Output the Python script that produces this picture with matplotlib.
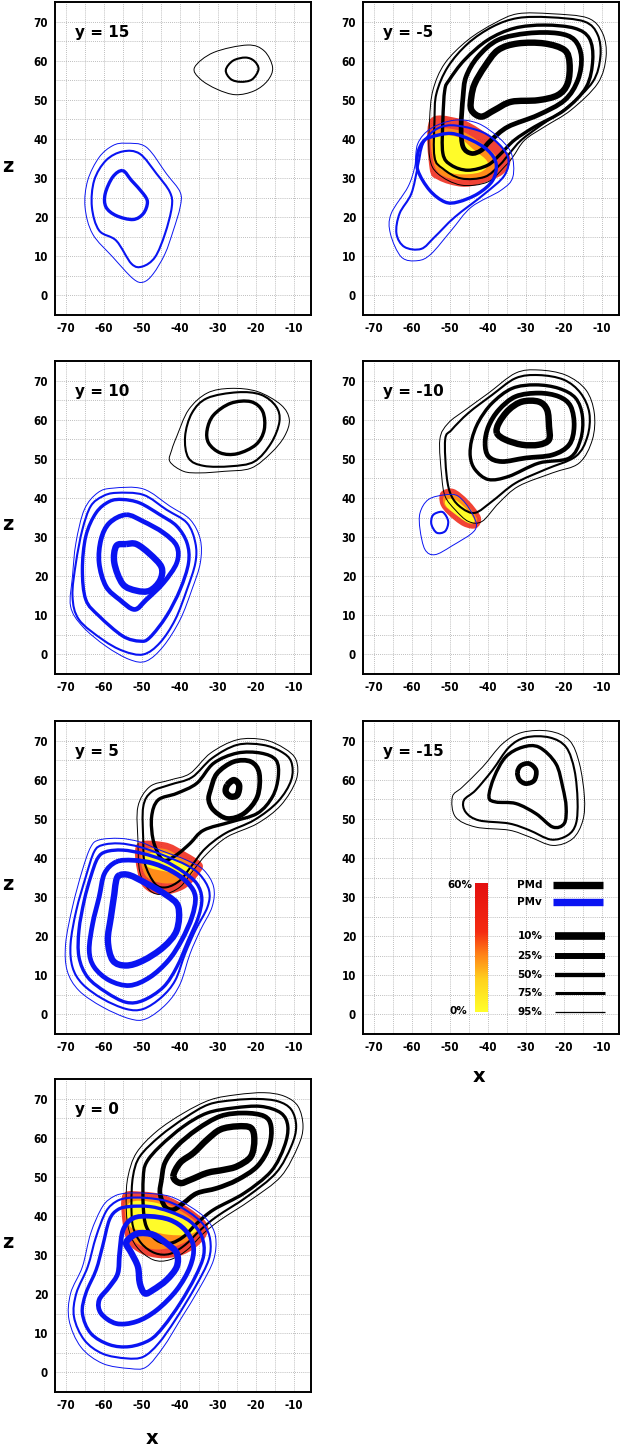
import numpy as np
import matplotlib
matplotlib.use("Agg")
import matplotlib.pyplot as plt
from matplotlib import font_manager
from matplotlib.path import Path
from matplotlib.patches import PathPatch
from matplotlib.colors import LinearSegmentedColormap

plt.rcParams["axes.unicode_minus"] = False

# contour outlines (x, z), keyed by percentile level
PMD_Y15 = {
    95: [(-36.1, 58.3), (-31.1, 62.1), (-22.2, 64.0), (-17.8, 62.5), (-15.6, 58.3), (-16.9, 54.9),
         (-20.4, 52.3), (-25.3, 51.3), (-30.2, 52.7), (-34.6, 55.3)],
    75: [(-27.9, 57.6), (-26.0, 60.0), (-22.7, 60.8), (-20.4, 59.9), (-19.3, 57.8), (-21.0, 55.2),
         (-24.0, 54.6), (-26.6, 55.3)],
}
PMV_Y15 = {
    95: [(-54.2, 38.9), (-48.8, 37.9), (-43.5, 31.1), (-39.9, 26.4), (-39.9, 22.6), (-41.7, 16.6),
         (-43.9, 10.6), (-47.0, 5.5), (-49.6, 3.4), (-52.3, 4.3), (-57.6, 9.8), (-62.9, 15.7),
         (-64.9, 22.6), (-64.2, 29.4), (-61.2, 35.3), (-57.6, 38.3)],
    75: [(-55.0, 36.8), (-50.5, 36.2), (-46.1, 31.1), (-42.6, 26.4), (-42.1, 22.6), (-43.9, 15.7),
         (-46.5, 9.8), (-49.8, 7.4), (-52.7, 8.1), (-56.7, 14.0), (-61.2, 16.6), (-63.1, 22.6),
         (-62.5, 29.4), (-59.4, 34.5)],
    50: [(-55.0, 31.9), (-52.7, 29.4), (-49.6, 26.0), (-48.5, 23.8), (-49.6, 20.9), (-52.3, 19.4),
         (-56.7, 20.4), (-59.4, 22.6), (-59.6, 26.0), (-57.6, 30.3)],
}

PMD_YM5 = {
    95: [(-55.3, 44.8), (-55.3, 35.4), (-53.1, 31.1), (-47.0, 28.2), (-40.0, 29.0), (-35.6, 32.9),
         (-33.4, 35.4), (-30.3, 39.7), (-25.1, 43.1), (-18.1, 47.4), (-11.1, 54.2), (-8.9, 61.0),
         (-9.8, 67.0), (-13.7, 70.9), (-23.3, 72.0), (-32.1, 72.0), (-38.2, 69.6), (-45.2, 65.3),
         (-51.3, 59.3), (-54.4, 52.5)],
    75: [(-53.5, 51.6), (-54.0, 44.8), (-54.0, 35.4), (-51.8, 32.4), (-47.0, 29.9), (-40.8, 30.3),
         (-36.9, 33.3), (-34.3, 36.3), (-31.2, 39.7), (-26.0, 43.5), (-19.0, 48.2), (-12.4, 54.6),
         (-10.4, 61.0), (-11.1, 66.6), (-14.6, 70.0), (-23.8, 71.1), (-32.1, 70.9), (-38.7, 68.7),
         (-45.2, 64.4), (-50.5, 58.4)],
    50: [(-51.3, 52.5), (-51.8, 44.8), (-51.8, 36.3), (-49.6, 33.3), (-45.2, 32.0), (-40.0, 33.3),
         (-36.5, 36.3), (-33.0, 39.7), (-27.7, 43.1), (-19.8, 47.4), (-14.1, 53.3), (-12.4, 60.2),
         (-13.3, 65.7), (-17.2, 68.3), (-25.1, 69.1), (-33.0, 68.3), (-40.0, 65.3), (-46.1, 60.2),
         (-50.1, 55.1)],
    25: [(-46.5, 50.8), (-47.0, 43.1), (-46.5, 38.0), (-44.3, 36.3), (-41.7, 37.1), (-39.1, 39.7),
         (-34.7, 43.1), (-26.8, 46.1), (-19.8, 49.9), (-16.3, 55.1), (-15.4, 61.0), (-17.2, 65.3),
         (-21.6, 67.0), (-29.5, 67.0), (-37.3, 65.3), (-42.6, 61.0), (-45.7, 55.9)],
    10: [(-44.3, 50.8), (-44.3, 47.4), (-41.7, 45.7), (-38.2, 47.4), (-33.8, 49.5), (-26.8, 49.9),
         (-21.6, 51.2), (-19.0, 54.2), (-18.5, 59.3), (-19.8, 62.7), (-25.1, 64.4), (-32.1, 64.4),
         (-37.3, 62.7), (-40.8, 58.5), (-43.4, 54.2)],
}
PMV_YM5 = {
    95: [(-48.7, 44.8), (-42.6, 44.0), (-37.3, 40.5), (-33.8, 36.3), (-33.4, 30.3), (-36.5, 26.9),
         (-44.3, 22.6), (-49.6, 16.6), (-54.9, 10.6), (-58.4, 8.9), (-62.7, 9.8), (-65.6, 15.8),
         (-65.4, 20.9), (-61.0, 27.7), (-59.2, 32.9), (-58.4, 38.8), (-54.9, 42.7)],
    75: [(-49.6, 43.5), (-42.6, 42.2), (-38.2, 39.7), (-34.7, 35.4), (-35.6, 30.7), (-40.8, 26.0),
         (-48.7, 20.0), (-54.0, 14.9), (-57.5, 11.9), (-61.9, 12.4), (-64.0, 15.8), (-63.2, 20.9),
         (-60.1, 26.0), (-58.4, 32.9), (-57.0, 38.8), (-54.0, 42.2)],
    50: [(-54.9, 40.5), (-49.6, 41.4), (-44.3, 39.7), (-40.0, 37.1), (-37.8, 33.7), (-38.7, 29.4),
         (-42.6, 26.0), (-47.8, 23.9), (-51.3, 23.9), (-55.3, 26.9), (-58.4, 32.0), (-58.4, 36.3),
         (-57.0, 39.3)],
}
HEAT_YM5 = {
    "red": [(-55.3, 44.8), (-48, 45.3), (-42, 42.5), (-37, 38.5), (-34, 35), (-36, 31),
            (-42, 28.5), (-47, 27.8), (-53, 29.5), (-55.3, 32.5)],
    "orange": [(-54.5, 42), (-48, 42.3), (-42.5, 39.5), (-37.5, 35), (-40, 31), (-47, 29.5),
               (-52.5, 31), (-54.5, 35)],
    "yellow": [(-53.8, 40.5), (-48, 40.5), (-44, 37.5), (-40, 34), (-42, 31.5), (-48, 31),
               (-52.5, 32.5), (-53.8, 36)],
}

PMD_Y10 = {
    95: [(-42.1, 52.3), (-40.8, 55.7), (-37.7, 62.5), (-32.8, 66.8), (-26.6, 68.0), (-19.6, 67.2),
         (-13.4, 63.8), (-11.2, 60.0), (-12.5, 55.7), (-16.0, 51.5), (-21.3, 47.6), (-28.4, 46.8),
         (-34.6, 46.4), (-39.0, 46.8), (-42.6, 49.3)],
    75: [(-38.6, 55.7), (-36.8, 61.7), (-32.8, 65.5), (-24.9, 67.0), (-18.7, 66.4), (-14.7, 63.4),
         (-13.8, 59.5), (-16.0, 54.0), (-20.4, 49.3), (-26.6, 48.1), (-33.7, 48.2), (-37.7, 50.2)],
    50: [(-32.8, 57.4), (-31.1, 61.2), (-26.6, 64.2), (-21.3, 64.6), (-18.2, 62.1), (-17.8, 57.4),
         (-20.0, 53.6), (-24.9, 51.3), (-29.3, 51.5), (-32.4, 54.0)],
}
PMV_Y10 = {
    95: [(-57.6, 42.5), (-49.6, 42.3), (-42.6, 37.9), (-37.3, 34.5), (-34.6, 29.4), (-34.6, 23.4),
         (-36.8, 16.6), (-39.9, 8.9), (-44.3, 2.1), (-48.8, -1.7), (-53.2, -1.3), (-59.4, 2.1),
         (-65.6, 7.2), (-68.7, 12.3), (-68.2, 20.0), (-67.3, 28.5), (-65.1, 37.0), (-61.6, 41.3)],
    75: [(-56.7, 41.3), (-49.6, 40.8), (-43.5, 37.0), (-38.1, 33.6), (-35.9, 28.5), (-35.9, 23.4),
         (-38.1, 16.6), (-41.2, 8.9), (-45.2, 3.0), (-49.6, 0.0), (-54.9, 0.9), (-60.3, 3.8),
         (-66.5, 8.9), (-68.2, 14.9), (-67.3, 23.4), (-65.6, 31.9), (-63.4, 37.9), (-60.3, 40.4)],
    50: [(-55.0, 39.6), (-50.5, 38.7), (-45.2, 35.7), (-40.8, 32.8), (-38.1, 28.5), (-37.7, 23.4),
         (-39.9, 16.6), (-43.5, 9.8), (-47.9, 4.3), (-50.5, 3.4), (-55.0, 4.7), (-61.2, 9.8),
         (-64.7, 14.0), (-65.6, 21.7), (-64.7, 30.2), (-62.0, 36.2), (-58.5, 39.1)],
    25: [(-54.1, 35.7), (-49.6, 34.0), (-44.3, 31.1), (-40.8, 27.7), (-40.8, 23.4), (-44.3, 18.3),
         (-48.8, 14.0), (-51.9, 11.5), (-55.8, 14.0), (-59.4, 17.4), (-61.2, 23.4), (-60.7, 29.4),
         (-58.5, 33.6)],
    10: [(-54.1, 28.2), (-51.4, 28.2), (-47.9, 25.7), (-44.8, 22.3), (-45.2, 18.9), (-47.9, 16.3),
         (-51.4, 16.3), (-55.0, 18.0), (-57.2, 23.4), (-56.7, 27.7)],
}

PMD_YM10 = {
    95: [(-52.6, 54.9), (-52.1, 45.5), (-51.2, 40.4), (-48.6, 37.0), (-45.1, 34.0), (-41.5, 34.0),
         (-37.1, 38.7), (-31.9, 43.0), (-23.0, 46.4), (-16.0, 48.9), (-12.5, 54.9), (-12.0, 61.7),
         (-14.2, 67.6), (-19.5, 71.4), (-26.6, 72.7), (-32.7, 71.9), (-39.8, 66.8), (-45.9, 62.5),
         (-50.4, 59.1)],
    75: [(-51.2, 54.9), (-50.8, 45.5), (-49.5, 40.4), (-46.8, 37.4), (-43.3, 36.2), (-38.9, 39.1),
         (-32.7, 43.8), (-24.8, 47.3), (-16.9, 50.6), (-13.8, 55.7), (-13.3, 61.7), (-15.6, 66.8),
         (-20.0, 70.2), (-26.6, 71.4), (-32.7, 70.6), (-38.9, 66.3), (-45.1, 61.7), (-49.5, 57.4)],
    50: [(-44.2, 54.9), (-44.6, 50.6), (-43.3, 47.2), (-39.8, 44.7), (-34.5, 45.5), (-26.6, 48.9),
         (-18.6, 50.2), (-15.6, 54.9), (-15.1, 60.8), (-16.9, 65.5), (-21.3, 68.0), (-27.4, 68.9),
         (-33.6, 68.0), (-38.9, 64.2), (-42.4, 59.5)],
    25: [(-40.7, 54.0), (-39.8, 50.6), (-36.3, 49.3), (-30.1, 50.2), (-23.0, 51.0), (-18.6, 53.6),
         (-17.3, 58.3), (-18.2, 63.4), (-21.3, 65.9), (-26.6, 66.8), (-32.7, 65.9), (-37.1, 62.5),
         (-39.8, 58.3)],
    10: [(-37.6, 56.6), (-37.1, 59.1), (-34.5, 62.5), (-31.0, 64.6), (-26.6, 64.6), (-24.4, 62.5),
         (-23.9, 58.3), (-23.9, 54.9), (-26.6, 53.6), (-31.0, 53.6), (-35.4, 54.9)],
}
PMV_YM10 = {
    95: [(-51.2, 40.8), (-47.7, 40.4), (-44.2, 36.2), (-43.3, 31.9), (-49.5, 27.7), (-53.9, 25.5),
         (-56.5, 26.8), (-57.8, 31.9), (-57.8, 36.2), (-55.6, 39.6)],
    75: [(-53.4, 36.2), (-51.7, 36.3), (-50.4, 34.0), (-51.2, 31.5), (-53.4, 31.1), (-54.8, 33.2),
         (-54.6, 35.3)],
}
HEAT_YM10 = {
    "red": [(-52.3, 41.5), (-49, 42.3), (-45, 39.3), (-41.8, 35), (-43, 32.3), (-46.5, 32.8),
            (-50.5, 35.8), (-52.5, 38.5)],
    "orange": [(-51.5, 40.5), (-48.8, 41), (-45.2, 38), (-42.8, 34.5), (-44.5, 33.3), (-48, 35.5),
               (-51.3, 38)],
    "yellow": [(-51, 39.5), (-48.5, 39.5), (-45, 36.5), (-43.5, 34), (-45.5, 33.8), (-49, 36.2),
               (-51, 38)],
}

PMD_Y5 = {
    95: [(-51.0, 53.1), (-51.0, 44.6), (-50.5, 36.4), (-47.9, 31.7), (-44.3, 30.7), (-39.9, 32.6),
         (-36.4, 36.9), (-32.8, 41.1), (-27.5, 45.4), (-19.6, 48.8), (-13.4, 53.5), (-9.4, 59.9),
         (-9.4, 65.0), (-12.5, 68.0), (-17.8, 70.2), (-24.9, 70.2), (-31.9, 66.8), (-37.3, 61.6),
         (-42.6, 59.9), (-47.9, 58.2)],
    75: [(-49.6, 53.1), (-49.6, 44.6), (-49.2, 38.6), (-46.5, 33.4), (-43.5, 32.5), (-39.9, 34.3),
         (-36.8, 38.1), (-33.3, 42.4), (-28.0, 46.3), (-20.4, 49.7), (-14.2, 54.4), (-10.7, 59.9),
         (-10.7, 64.6), (-13.4, 67.2), (-18.2, 68.9), (-24.9, 68.9), (-31.5, 65.5), (-36.8, 60.6),
         (-42.6, 58.7), (-47.4, 56.9)],
    50: [(-47.4, 50.5), (-47.0, 44.6), (-45.2, 40.3), (-43.5, 39.4), (-40.4, 41.1), (-37.3, 43.7),
         (-33.7, 47.1), (-26.6, 49.2), (-19.6, 51.4), (-15.6, 55.7), (-14.1, 60.8), (-14.7, 65.0),
         (-18.7, 66.8), (-24.9, 66.8), (-31.1, 64.2), (-35.5, 59.1), (-40.8, 56.5), (-45.7, 54.8)],
    25: [(-31.9, 57.4), (-30.2, 61.6), (-25.8, 64.6), (-21.3, 64.6), (-19.1, 61.6), (-19.6, 55.7),
         (-23.1, 51.4), (-27.5, 50.1), (-31.1, 52.2), (-32.4, 54.8)],
    10: [(-27.5, 58.6), (-25.8, 59.9), (-24.4, 58.6), (-24.9, 56.1), (-26.6, 55.7), (-27.9, 56.9)],
}
PMV_Y5 = {
    95: [(-61.2, 44.6), (-55.8, 45.0), (-50.5, 44.1), (-45.2, 42.0), (-38.1, 39.4), (-33.7, 36.9),
         (-31.1, 32.6), (-31.5, 27.5), (-34.6, 21.5), (-37.3, 15.5), (-39.9, 7.8), (-43.5, 2.7),
         (-48.8, -1.1), (-53.2, -1.1), (-60.3, 1.9), (-66.5, 6.1), (-69.6, 11.2), (-70.0, 18.1),
         (-68.2, 27.5), (-65.6, 36.9), (-63.4, 42.8)],
    75: [(-60.3, 43.3), (-55.8, 43.7), (-50.5, 42.8), (-44.3, 40.7), (-38.1, 38.1), (-34.6, 35.6),
         (-32.3, 31.7), (-32.7, 27.5), (-35.9, 21.5), (-38.6, 15.5), (-41.2, 8.7), (-44.8, 4.4),
         (-49.6, 1.4), (-54.1, 1.4), (-60.3, 4.0), (-65.6, 7.8), (-68.2, 12.1), (-68.7, 18.1),
         (-67.2, 26.6), (-64.7, 35.2), (-62.5, 41.6)],
    50: [(-59.4, 41.6), (-55.0, 42.0), (-49.6, 41.1), (-44.3, 39.4), (-39.0, 36.4), (-35.5, 33.4),
         (-34.2, 29.6), (-35.1, 24.9), (-37.7, 19.0), (-40.8, 12.1), (-44.3, 7.0), (-49.6, 3.6),
         (-54.1, 3.1), (-59.4, 5.7), (-64.2, 9.5), (-66.5, 14.7), (-66.5, 21.5), (-65.1, 29.2),
         (-63.4, 35.2), (-61.6, 39.9)],
    25: [(-56.7, 39.0), (-52.3, 39.4), (-47.0, 38.6), (-41.7, 36.4), (-37.7, 33.4), (-35.9, 30.0),
         (-36.8, 24.9), (-39.5, 19.0), (-43.0, 13.8), (-47.9, 9.5), (-53.2, 7.4), (-58.5, 8.7),
         (-62.5, 12.1), (-63.8, 16.4), (-62.9, 23.2), (-61.2, 30.0), (-59.8, 36.0)],
    10: [(-55.8, 35.6), (-53.2, 35.6), (-48.8, 33.5), (-43.5, 30.5), (-40.4, 27.5), (-40.8, 21.5),
         (-44.3, 17.2), (-49.6, 13.8), (-54.1, 12.5), (-57.6, 13.8), (-58.9, 18.9), (-58.1, 24.9),
         (-57.2, 30.8), (-56.7, 34.3)],
}
HEAT_Y5 = {
    "red": [(-51.3, 43.5), (-44, 44), (-38.5, 41.5), (-34, 38.3), (-35.8, 34.8), (-39, 32),
            (-44, 30.6), (-48.3, 31.5), (-50.8, 35)],
    "orange": [(-50, 41.8), (-44, 42.3), (-39.5, 40), (-36, 37.5), (-38.5, 34.5), (-44, 33.5),
               (-49, 35.5)],
    "yellow": [(-49, 40.8), (-44, 41.2), (-40, 39.2), (-37, 37.2), (-39, 35.8), (-44, 36.6),
               (-48.5, 37.8)],
}

PMD_YM15 = {
    95: [(-49.3, 55.6), (-46.7, 58.1), (-41.4, 63.2), (-36.1, 69.2), (-30.9, 72.1), (-23.8, 72.4),
         (-18.5, 70.0), (-15.9, 64.1), (-14.6, 55.6), (-15.0, 49.6), (-17.7, 44.9), (-22.9, 43.2),
         (-29.1, 45.4), (-34.4, 47.1), (-43.2, 47.9), (-48.5, 50.5)],
    75: [(-46.3, 54.7), (-43.2, 57.3), (-38.8, 62.4), (-34.4, 68.3), (-30.0, 70.8), (-23.8, 70.8),
         (-19.4, 68.3), (-17.2, 62.4), (-16.4, 54.7), (-16.8, 48.8), (-19.0, 45.8), (-23.4, 44.7),
         (-29.1, 47.1), (-34.4, 48.8), (-42.3, 49.6), (-45.8, 51.7)],
    50: [(-39.7, 55.6), (-38.3, 60.7), (-35.3, 65.8), (-30.9, 68.3), (-26.5, 68.3), (-22.1, 64.1),
         (-20.3, 58.1), (-19.4, 53.0), (-19.9, 48.8), (-22.9, 47.9), (-27.3, 51.3), (-32.6, 53.9),
         (-37.9, 54.3)],
    25: [(-32.2, 61.9), (-31.3, 63.6), (-29.1, 64.1), (-27.3, 62.4), (-27.8, 59.8), (-30.0, 59.0),
         (-31.7, 60.0)],
}

PMD_Y0 = {
    95: [(-53.6, 50.1), (-54.1, 44.1), (-53.6, 37.3), (-51.4, 32.2), (-47.0, 28.8), (-42.6, 28.8),
         (-38.1, 31.3), (-33.7, 35.6), (-29.3, 39.0), (-21.3, 44.1), (-13.4, 50.1), (-8.9, 57.8),
         (-7.6, 62.9), (-8.9, 68.0), (-12.5, 70.6), (-17.8, 71.5), (-24.9, 71.0), (-31.9, 69.7),
         (-39.0, 66.3), (-46.1, 61.6), (-51.4, 56.1)],
    75: [(-52.3, 50.1), (-52.7, 43.3), (-52.3, 37.3), (-50.1, 33.0), (-46.5, 30.5), (-42.6, 30.3),
         (-38.6, 32.6), (-34.6, 36.4), (-30.2, 39.9), (-22.2, 45.0), (-14.7, 51.0), (-10.7, 57.8),
         (-9.4, 62.9), (-10.7, 67.2), (-14.2, 69.3), (-19.5, 69.9), (-25.8, 69.6), (-32.4, 68.5),
         (-38.6, 65.1), (-45.2, 60.4), (-50.5, 55.2)],
    50: [(-49.6, 49.7), (-49.6, 42.4), (-48.8, 37.3), (-46.1, 33.9), (-42.6, 33.0), (-39.0, 34.7),
         (-35.5, 38.1), (-31.1, 41.6), (-23.1, 45.8), (-16.0, 51.4), (-12.5, 57.8), (-11.6, 62.9),
         (-13.4, 66.3), (-18.7, 68.0), (-25.8, 67.6), (-32.8, 66.3), (-39.0, 62.9), (-45.2, 57.8),
         (-48.8, 53.6)],
    25: [(-44.8, 49.2), (-45.2, 45.8), (-43.9, 42.4), (-41.7, 41.6), (-39.0, 43.3), (-35.5, 45.8),
         (-30.2, 47.1), (-24.9, 49.2), (-19.6, 52.7), (-16.5, 57.8), (-16.0, 62.9), (-17.8, 65.5),
         (-23.1, 66.3), (-29.3, 65.5), (-35.5, 62.1), (-40.8, 57.8), (-43.9, 53.6)],
    10: [(-41.7, 50.1), (-39.9, 48.4), (-37.3, 49.2), (-32.8, 51.0), (-28.4, 51.8), (-24.9, 52.7),
         (-21.3, 55.2), (-20.4, 59.5), (-21.3, 62.5), (-24.9, 62.9), (-29.3, 62.1), (-32.8, 59.5),
         (-36.4, 56.1), (-39.9, 53.6)],
}
PMV_Y0 = {
    95: [(-54.1, 45.8), (-48.8, 45.8), (-42.6, 45.0), (-37.3, 42.4), (-32.8, 39.0), (-30.6, 34.7),
         (-31.1, 28.8), (-34.6, 21.9), (-39.9, 13.4), (-44.3, 6.5), (-48.8, 1.4), (-53.2, 1.0),
         (-60.3, 2.3), (-66.0, 6.5), (-69.1, 13.4), (-68.7, 20.2), (-65.6, 27.0), (-63.4, 35.6),
         (-60.3, 42.4), (-57.3, 45.0)],
    75: [(-53.6, 44.6), (-48.8, 44.6), (-43.1, 43.7), (-37.8, 41.1), (-33.7, 37.7), (-32.0, 33.9),
         (-32.4, 28.8), (-35.9, 21.9), (-41.2, 13.4), (-45.6, 7.4), (-49.6, 4.0), (-54.1, 3.6),
         (-60.3, 4.8), (-65.1, 8.3), (-67.8, 14.2), (-67.2, 20.2), (-64.2, 27.0), (-62.0, 34.7),
         (-59.4, 41.1), (-56.7, 43.7)],
    50: [(-53.2, 42.4), (-47.9, 42.4), (-42.6, 41.1), (-37.3, 38.6), (-34.2, 34.7), (-33.7, 30.0),
         (-35.9, 24.5), (-39.9, 17.7), (-44.3, 11.7), (-47.9, 8.3), (-53.2, 6.6), (-58.5, 7.1),
         (-63.4, 10.0), (-65.6, 15.1), (-64.7, 20.2), (-62.0, 26.2), (-60.3, 32.2), (-58.5, 39.0),
         (-56.3, 41.6)],
    25: [(-52.3, 39.4), (-47.9, 39.9), (-42.6, 39.0), (-38.6, 36.4), (-36.4, 32.2), (-37.3, 27.0),
         (-40.8, 21.1), (-46.1, 15.9), (-51.4, 13.0), (-56.7, 12.5), (-60.7, 15.1), (-61.2, 18.5),
         (-58.5, 21.9), (-56.3, 25.3), (-55.8, 30.5), (-54.9, 36.4)],
    10: [(-52.7, 34.7), (-50.5, 35.6), (-47.0, 35.2), (-43.5, 33.0), (-40.8, 30.5), (-40.8, 27.0),
         (-43.5, 23.6), (-47.0, 21.1), (-49.2, 20.2), (-50.5, 22.8), (-51.0, 27.0), (-52.7, 30.5),
         (-54.1, 33.0)],
}
HEAT_Y0 = {
    "red": [(-55.0, 45.5), (-50, 46.2), (-44, 45.3), (-38, 42.3), (-33, 38.3), (-33, 35),
            (-36, 31.8), (-40, 29.8), (-45, 29.2), (-50, 30.3), (-53.5, 33), (-55, 38)],
    "orange": [(-54, 44), (-48, 44.5), (-41, 42), (-35, 37.5), (-37.5, 34), (-42, 32),
               (-47, 31.5), (-52, 33.5), (-54, 38)],
    "yellow": [(-53.3, 43.3), (-46, 43.3), (-40, 40.3), (-35.5, 36.8), (-38, 35.2), (-43, 35.2),
               (-48, 36.2), (-53, 37.3)],
}

# legend values
LEGEND_LEVELS = ["10%", "25%", "50%", "75%", "95%"]
LEGEND_Z = [20.0, 15.0, 10.2, 5.4, 0.6]
AREAS = ["PMd", "PMv"]
AREA_Z = [33.2, 28.8]
OVERLAP_RANGE = ["0%", "60%"]

LW = {10: 4.6, 25: 3.4, 50: 2.4, 75: 1.5, 95: 0.7}
LEG_LW = {10: 5.5, 25: 4.3, 50: 3.1, 75: 2.2, 95: 0.9}
BLACK = "#000000"
BLUE = "#0a14f2"
heat_cmap = LinearSegmentedColormap.from_list(
    "overlap", [(0, "#ffff2a"), (0.25, "#ffd21e"), (0.45, "#ff8018"), (0.62, "#f52c12"), (1, "#e41010")])
HEAT_COLORS = {"red": heat_cmap(0.75), "orange": heat_cmap(0.42), "yellow": heat_cmap(0.02)}


def pick_narrow():
    for fam in ["Liberation Sans Narrow", "Arial Narrow"]:
        try:
            font_manager.findfont(font_manager.FontProperties(family=fam), fallback_to_default=False)
            return dict(family=fam, weight="bold", size=9.5)
        except ValueError:
            pass
    return dict(family="DejaVu Sans", stretch="condensed", weight="bold", size=8.3)


TICK_FONT = pick_narrow()


def smooth_path(pts):
    """closed Catmull-Rom curve through the outline points, as cubic Bezier segments"""
    p = np.asarray(pts, dtype=float)
    n = len(p)
    verts = [p[0]]
    codes = [Path.MOVETO]
    for i in range(n):
        p0, p1, p2, p3 = p[i - 1], p[i], p[(i + 1) % n], p[(i + 2) % n]
        verts += [p1 + (p2 - p0) / 6, p2 - (p3 - p1) / 6, p2]
        codes += [Path.CURVE4] * 3
    return Path(verts, codes)


def draw_contours(ax, contours, color, z):
    for level, pts in contours.items():
        ax.add_patch(PathPatch(smooth_path(pts), fill=False, ec=color, lw=LW[level],
                               joinstyle="round", zorder=z))


def draw_heat(ax, heat):
    for i, key in enumerate(["red", "orange", "yellow"]):
        ax.add_patch(PathPatch(smooth_path(heat[key]), fc=HEAT_COLORS[key], ec="none",
                               alpha=0.85 if key == "red" else 1.0, zorder=2 + i * 0.1))


def setup(ax, title):
    ax.set_xlim(-72.8, -5.5)
    ax.set_ylim(-5, 75)
    ax.set_xticks(np.arange(-70, 0, 10))
    ax.set_yticks(np.arange(0, 71, 10))
    ax.set_xticks(np.arange(-70, -5, 5), minor=True)
    ax.set_yticks(np.arange(0, 71, 5), minor=True)
    ax.grid(which="both", ls=(0, (1, 1.5)), color="#a8a8a8", lw=0.6)
    ax.set_axisbelow(True)
    ax.tick_params(which="both", length=0, pad=5)
    fp = font_manager.FontProperties(**TICK_FONT)
    for lab in ax.get_xticklabels() + ax.get_yticklabels():
        lab.set_fontproperties(fp)
    for s in ax.spines.values():
        s.set_linewidth(1.4)
    ax.text(-67.5, 67.2, title, fontsize=11, fontweight="bold", va="center", zorder=6)


fig = plt.figure(figsize=(6.22, 14.48), dpi=100)
W, H = 622, 1448
col_left = [55, 363]
row_top = [2, 361, 721, 1079]
aw, ah = 256, 313


def make_ax(r, c):
    return fig.add_axes([col_left[c] / W, 1 - (row_top[r] + ah) / H, aw / W, ah / H])


panels = [
    (0, 0, "y = 15", PMD_Y15, PMV_Y15, None),
    (0, 1, "y = -5", PMD_YM5, PMV_YM5, HEAT_YM5),
    (1, 0, "y = 10", PMD_Y10, PMV_Y10, None),
    (1, 1, "y = -10", PMD_YM10, PMV_YM10, HEAT_YM10),
    (2, 0, "y = 5", PMD_Y5, PMV_Y5, HEAT_Y5),
    (2, 1, "y = -15", PMD_YM15, {}, None),
    (3, 0, "y = 0", PMD_Y0, PMV_Y0, HEAT_Y0),
]

axes = {}
for r, c, title, pmd, pmv, heat in panels:
    ax = make_ax(r, c)
    axes[(r, c)] = ax
    if heat is not None:
        draw_heat(ax, heat)
    draw_contours(ax, pmd, BLACK, 3)
    draw_contours(ax, pmv, BLUE, 4)
    setup(ax, title)

# legend inside the y = -15 panel
lax = axes[(2, 1)]
grad = np.linspace(0, 1, 200).reshape(-1, 1)
lax.imshow(grad, cmap=heat_cmap, origin="lower", aspect="auto",
           extent=[-43.4, -40.2, 0.6, 33.4], zorder=3)
lax.set_xlim(-72.8, -5.5)
lax.set_ylim(-5, 75)
lax.text(-44.0, 33.0, OVERLAP_RANGE[1], ha="right", va="center", fontsize=7.5, fontweight="bold")
lax.text(-45.4, 0.8, OVERLAP_RANGE[0], ha="right", va="center", fontsize=7.5, fontweight="bold")
for name, z, col in zip(AREAS, AREA_Z, [BLACK, BLUE]):
    lax.text(-32.2, z, name, ha="left", va="center", fontsize=7.5, fontweight="bold")
    lax.plot([-22.8, -9.6], [z, z], color=col, lw=5.3, solid_capstyle="butt", zorder=4)
for lab, z, lev in zip(LEGEND_LEVELS, LEGEND_Z, [10, 25, 50, 75, 95]):
    lax.text(-32.2, z, lab, ha="left", va="center", fontsize=7.5, fontweight="bold")
    lax.plot([-22.3, -9.3], [z, z], color=BLACK, lw=LEG_LW[lev], solid_capstyle="butt", zorder=4)

# axis letters
for r in range(4):
    yc = 1 - (row_top[r] + 164) / H
    fig.text(8 / W, yc, "z", fontsize=14, fontweight="bold", ha="center", va="center")
fig.text(479 / W, 1 - 1077 / H, "x", fontsize=14, fontweight="bold", ha="center", va="center")
fig.text(152 / W, 1 - 1438 / H, "x", fontsize=14, fontweight="bold", ha="center", va="center")

fig.savefig("out.png", dpi=100)
